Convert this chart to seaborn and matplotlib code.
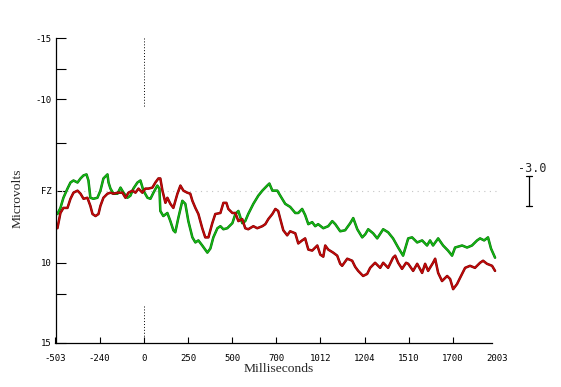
import pandas as pd
import seaborn as sns
import matplotlib.pyplot as plt
import matplotlib.patheffects as pe

# FZ electrode, two conditions (ms, microvolts; negative is up)
green_ms = [-492, -475, -458, -435, -418, -401, -378, -361, -344, -327, -316, -305, -288, -265,
            -248, -231, -208, -202, -191, -174, -151, -134, -117, -95, -78, -61, -38, -21, -4,
            19, 36, 53, 75, 87, 92, 109, 132, 149, 166, 177, 194, 217, 234, 251, 274, 291, 308,
            330, 359, 376, 393, 416, 433, 450, 472, 501, 518, 535, 557, 574, 591, 620, 648, 671,
            699, 711, 728, 756, 773, 801, 829, 858, 875, 897, 914, 932, 954, 971, 988, 1017,
            1045, 1068, 1085, 1113, 1141, 1170, 1187, 1210, 1238, 1255, 1272, 1300, 1323, 1357,
            1385, 1413, 1442, 1470, 1499, 1521, 1550, 1578, 1606, 1623, 1640, 1669, 1697, 1725,
            1748, 1765, 1805, 1833, 1861, 1890, 1907, 1930, 1952, 1969, 1992]
green_uv = [2.3, 1.7, 0.7, -0.2, -0.8, -1.0, -0.8, -1.2, -1.5, -1.6, -1.0, 0.7, 0.8, 0.7,
            0.0, -1.2, -1.6, -0.8, -0.2, 0.3, 0.3, -0.3, 0.2, 0.7, 0.5, -0.2, -0.8, -1.0, 0.0,
            0.7, 0.8, 0.2, -0.5, -0.2, 2.0, 2.5, 2.2, 3.0, 3.9, 4.1, 2.7, 1.0, 1.3, 3.0, 4.6, 5.1, 4.9,
            5.4, 6.1, 5.7, 4.6, 3.7, 3.5, 3.8, 3.7, 3.2, 2.3, 2.0, 3.2, 3.0, 2.3, 1.3, 0.5, 0.0,
            -0.5, -0.7, 0.0, 0.0, 0.5, 1.3, 1.6, 2.2, 2.2, 1.8, 2.4, 3.3, 3.1, 3.5, 3.3, 3.7,
            3.5, 3.0, 3.3, 4.0, 3.9, 3.2, 2.7, 3.8, 4.6, 4.3, 3.8, 4.2, 4.7, 3.8,
            4.1, 4.7, 5.6, 6.4, 4.7, 4.6, 5.1, 4.9, 5.4, 4.9, 5.4, 4.7, 5.4, 5.9,
            6.4, 5.6, 5.4, 5.6, 5.4, 4.9, 4.7, 4.9, 4.6, 5.7, 6.6]

red_ms = [-492, -475, -458, -435, -418, -401, -378, -361, -344, -322, -305, -293, -276, -259,
          -248, -231, -208, -191, -174, -151, -123, -106, -89, -66, -49, -32, -10, 7, 24, 47,
          64, 81, 92, 104, 121, 132, 149, 166, 189, 206, 223, 245, 262, 274, 291, 308, 330, 347,
          365, 387, 404, 433, 450, 467, 478, 501, 518, 535, 557, 574, 591, 620, 642, 671, 688,
          705, 728, 745, 761, 773, 790, 812, 829, 858, 875, 897, 914, 932, 954, 983, 1000,
          1017, 1028, 1045, 1073, 1096, 1113, 1124, 1153, 1181, 1198, 1215, 1243, 1266, 1283,
          1311, 1340, 1357, 1385, 1413, 1425, 1442, 1464, 1487, 1499, 1527, 1550, 1578, 1595,
          1612, 1640, 1652, 1669, 1691, 1720, 1737, 1754, 1776, 1793, 1822, 1850, 1878, 1907,
          1924, 1946, 1975, 1992]
red_uv = [3.7, 2.2, 1.7, 1.7, 0.8, 0.2, 0.0, 0.3, 0.8, 0.7, 1.5, 2.3, 2.5, 2.3,
          1.5, 0.7, 0.3, 0.2, 0.3, 0.2, 0.2, 0.7, 0.2, 0.0, 0.2, -0.2, 0.2, -0.2, -0.2, -0.3,
          -0.8, -1.2, -1.2, 0.0, 1.2, 0.7, 1.3, 1.7, 0.3, -0.5, 0.0, 0.2, 0.3, 1.0, 1.7, 2.3, 3.7, 4.6,
          4.6, 3.2, 2.3, 2.2, 1.2, 1.2, 1.8, 2.2, 2.2, 3.0, 2.8, 3.7, 3.8, 3.5, 3.7, 3.5, 3.3,
          2.8, 2.3, 1.8, 2.0, 2.8, 3.9, 4.4, 4.0, 4.2, 5.2, 4.9, 4.7, 5.8, 5.9, 5.4, 6.3,
          6.5, 5.4, 5.8, 6.1, 6.4, 7.2, 7.4, 6.7, 6.9, 7.5, 7.9, 8.4, 8.2, 7.6,
          7.1, 7.6, 7.1, 7.6, 6.6, 6.4, 7.1, 7.7, 7.1, 7.2, 7.9, 7.2, 8.1, 7.2,
          7.9, 7.1, 6.7, 8.1, 8.9, 8.4, 8.7, 9.7, 9.2, 8.6, 7.6, 7.4, 7.6, 7.1,
          6.9, 7.2, 7.4, 7.9]

x_tick_labels = ["-503", "-240", "0", "250", "500", "700", "1012", "1204", "1510", "1700", "2003"]
y_tick_values = [-15, -12, -9, -4.66, 0, 7.12, 10.2, 15]
y_tick_labels = ["-15", "", "-10", "", "FZ", "10", "", "15"]
scale_uv = 3.0

df = pd.concat([
    pd.DataFrame({"ms": green_ms, "uv": green_uv, "cond": "green"}),
    pd.DataFrame({"ms": red_ms, "uv": red_uv, "cond": "red"}),
])

sns.set_style("white")
fig = plt.figure(figsize=(5.61, 3.87), dpi=100)
ax = fig.add_axes([55.5 / 561, 1 - 343 / 387, (497 - 55.5) / 561, (343 - 38.3) / 387])

# baseline and stimulus onset markers
ax.axhline(0, color="#c4c4c4", lw=0.8, ls=(0, (1, 4)), zorder=1)
ax.plot([0, 0], [-15, -8.2], color="black", lw=0.7, ls=(0, (1, 2)))
ax.plot([0, 0], [11.4, 15], color="black", lw=0.7, ls=(0, (1, 2)))

sns.lineplot(data=df, x="ms", y="uv", hue="cond",
             palette={"green": "#14b414", "red": "#c00a0a"},
             estimator=None, sort=False, legend=False, lw=1.1, ax=ax)
for line, edge in zip(ax.lines[-2:], ["#067006", "#7a0000"]):
    line.set_path_effects([pe.Stroke(linewidth=1.8, foreground=edge), pe.Normal()])

ax.set_xlim(-503, 2003)
ax.set_ylim(15, -15)

step = (2003 - (-503)) / 10
ax.set_xticks([-503 + i * step for i in range(11)])
ax.set_xticklabels(x_tick_labels, family="DejaVu Sans Mono")
ax.set_yticks(y_tick_values)
ax.set_yticklabels(y_tick_labels, family="DejaVu Sans Mono")
ax.tick_params(axis="x", bottom=True, direction="in", length=4, width=0.8, pad=8,
               labelsize=6.5, colors="black")
ax.tick_params(axis="y", left=True, direction="in", length=7, width=0.8, pad=3,
               labelsize=6.5, colors="black")
ax.xaxis.get_major_ticks()[-1].tick1line.set_visible(False)
ax.set_xlabel("")
ax.set_ylabel("")

for side in ["top", "right"]:
    ax.spines[side].set_visible(False)
for side in ["left", "bottom"]:
    ax.spines[side].set_color("black")
    ax.spines[side].set_linewidth(0.9)
ax.spines["bottom"].set_bounds(-503, 1975)

# calibration bar
bar_x = 2184
ax.plot([bar_x, bar_x], [-1.45, -1.45 + scale_uv], color="black", lw=0.9, clip_on=False)
for yv in [-1.45, -1.45 + scale_uv]:
    ax.plot([bar_x - 16, bar_x + 16], [yv, yv], color="black", lw=0.9, clip_on=False)
ax.text(2205, -2.15, "-%.1f" % scale_uv, ha="center", va="center", fontsize=8.5,
        family="DejaVu Sans Mono", clip_on=False)

fig.text(279 / 561, 1 - 369 / 387, "Milliseconds", ha="center", va="center",
         fontsize=9.7, family="Liberation Serif")
fig.text(18 / 561, 1 - 198 / 387, "Microvolts", ha="center", va="center", rotation=90,
         fontsize=9.7, family="Liberation Serif")

fig.savefig("out.png", dpi=100)
